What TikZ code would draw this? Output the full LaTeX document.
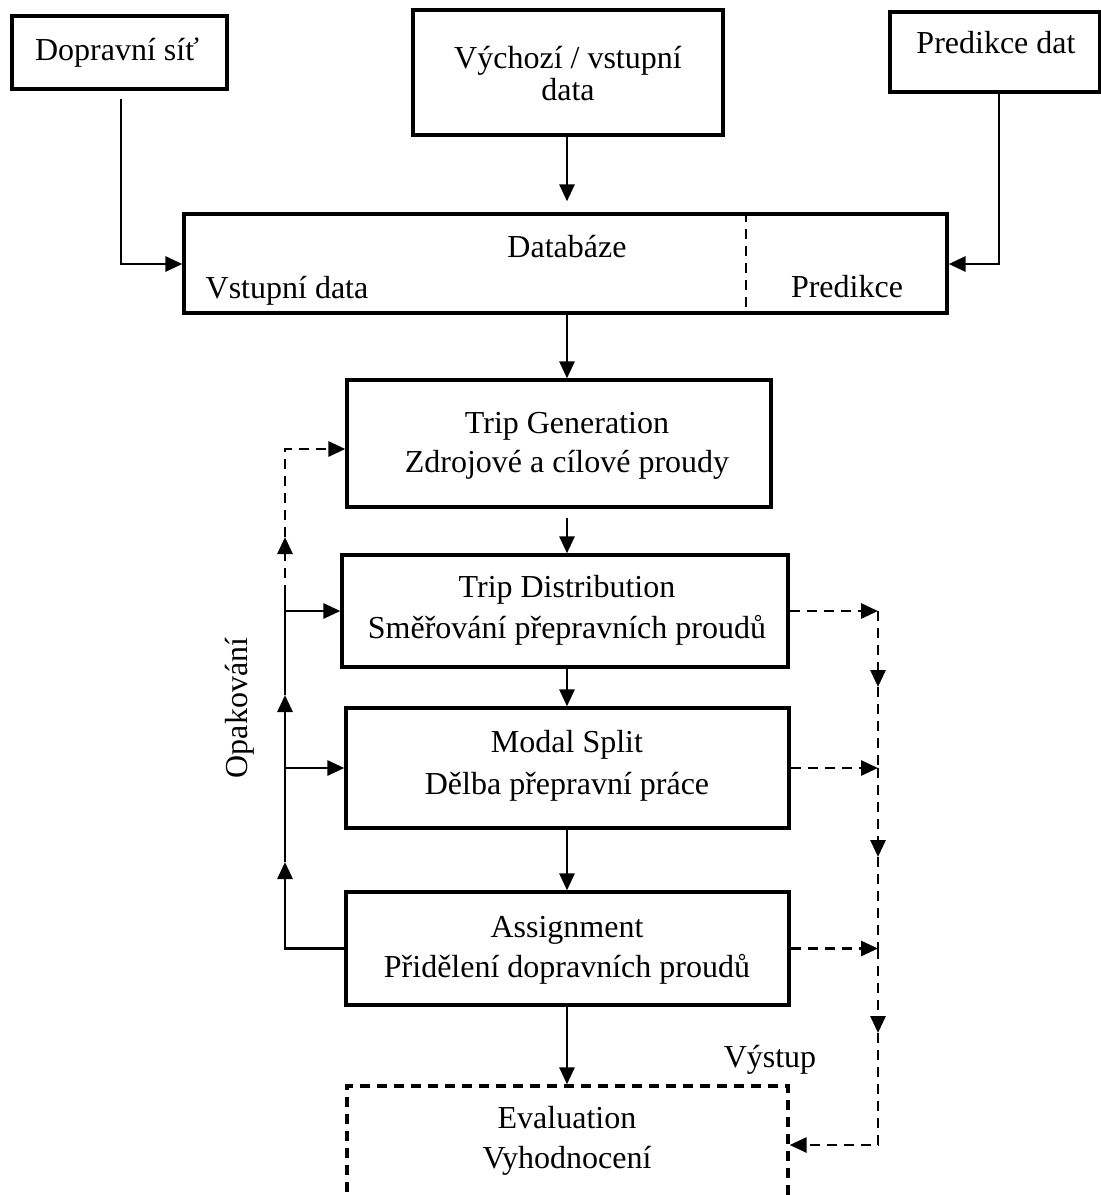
\documentclass[tikz,border=0pt]{standalone}
\usepackage{fontspec}
\setmainfont{Liberation Serif}
\usetikzlibrary{arrows.meta}
\begin{document}
\begin{tikzpicture}[x=1pt,y=-1pt,
  box/.style={draw,line width=3.3pt,inner sep=0pt},
  dbox/.style={box,dash pattern=on 10pt off 7pt},
  txt/.style={anchor=base,inner sep=0pt,font=\fontsize{32}{38}\selectfont},
  conn/.style={line width=2.9pt,-{Triangle[length=17pt,width=15pt]}},
  plain/.style={line width=2.9pt},
  dconn/.style={conn,dash pattern=on 10pt off 7pt},
  dplain/.style={plain,dash pattern=on 10pt off 7pt}]
\useasboundingbox (0,0) rectangle (1101,1195);
\clip (0,0) rectangle (1101,1195);
% boxes
\node[box,minimum width=215pt,minimum height=73pt] (dop) at (119.5,52.5) {};
\node[box,minimum width=310pt,minimum height=125pt] (vych) at (568,72.5) {};
\node[box,minimum width=210pt,minimum height=80pt] (pred) at (995,52) {};
\node[box,minimum width=763pt,minimum height=99pt] (db) at (565.5,263.5) {};
\node[box,minimum width=424pt,minimum height=127pt] (tg) at (559,443.5) {};
\node[box,minimum width=446pt,minimum height=112pt] (td) at (565,611) {};
\node[box,minimum width=443pt,minimum height=120pt] (ms) at (567.5,768) {};
\node[box,minimum width=443pt,minimum height=113pt] (as) at (567.5,948.5) {};
\node[dbox,minimum width=441pt,minimum height=144pt] (ev) at (567.5,1158) {};
\draw[dplain] ([xshift=180.5pt]db.north) -- ([xshift=180.5pt]db.south);
% texts
\node[txt] (tdop) at (117,60) {Dopravní síť};
\node[txt] (tvy1) at (568,68) {Výchozí / vstupní};
\node[txt] (tvy2) at (568,100) {data};
\node[txt] (tpred) at (996,53) {Predikce dat};
\node[txt] (tdb) at (567,257) {Databáze};
\node[txt] (tvst) at (287,298) {Vstupní data};
\node[txt] (tpr) at (847,297) {Predikce};
\node[txt] (ttg1) at (567,433) {Trip Generation};
\node[txt] (ttg2) at (567,472) {Zdrojové a cílové proudy};
\node[txt] (ttd1) at (567,597) {Trip Distribution};
\node[txt] (ttd2) at (567,638) {Směřování přepravních proudů};
\node[txt] (tms1) at (567,752) {Modal Split};
\node[txt] (tms2) at (567,794) {Dělba přepravní práce};
\node[txt] (tas1) at (567,937) {Assignment};
\node[txt] (tas2) at (567,977) {Přidělení dopravních proudů};
\node[txt] (tev1) at (567,1128) {Evaluation};
\node[txt] (tev2) at (567,1168) {Vyhodnocení};
\node[txt] (tvys) at (770,1067) {Výstup};
\node[txt,anchor=center,rotate=90] (topak) at (240,708) {Opakování};
% coordinates
\coordinate (mx) at (567,0);
\coordinate (c1) at (121,264);
\coordinate (c2) at (999,264);
\coordinate (lx) at (285,0);
\coordinate (l1) at (285,862);
\coordinate (l2) at (285,695);
\coordinate (l3) at (285,595);
\coordinate (l4) at (285,537);
\coordinate (l5) at (285,449);
\coordinate (rx) at (878,0);
\coordinate (r2) at (878,687);
\coordinate (r3) at (878,857);
\coordinate (r4) at (878,1033);
\coordinate (r5) at (878,1145);
% top connectors
\draw[conn,shorten <=8pt] (dop.south -| c1) -- (c1) -- (c1 -| db.west);
\draw[conn] (pred.south -| c2) -- (c2) -- (c2 -| db.east);
\draw[conn,shorten >=11pt] (vych.south -| mx) -- (db.north -| mx);
% main chain
\draw[conn] (db.south -| mx) -- (tg.north -| mx);
\draw[conn,shorten <=9pt] (tg.south -| mx) -- (td.north -| mx);
\draw[conn] (td.south -| mx) -- (ms.north -| mx);
\draw[conn] (ms.south -| mx) -- (as.north -| mx);
\draw[conn] (as.south -| mx) -- (ev.north -| mx);
% left loop
\draw[conn] (as.west) -- (as.west -| lx) -- (l1);
\draw[conn] (l1) -- (l2);
\draw[plain] (l2) -- (l3);
\draw[dconn] (l3) -- (l4);
\draw[dconn] (l4) -- (l5) -- (l5 -| tg.west);
\draw[conn] (td.west -| lx) -- (td.west);
\draw[conn] (ms.west -| lx) -- (ms.west);
% right output
\draw[dconn] (td.east) -- (td.east -| rx);
\draw[dconn] (td.east -| rx) -- (r2);
\draw[dplain] (r2) -- (ms.east -| rx);
\draw[dconn] (ms.east) -- (ms.east -| rx);
\draw[dconn] (ms.east -| rx) -- (r3);
\draw[dplain] (r3) -- (as.east -| rx);
\draw[dconn] (as.east) -- (as.east -| rx);
\draw[dconn] (as.east -| rx) -- (r4);
\draw[dconn] (r4) -- (r5) -- (r5 -| ev.east);
\end{tikzpicture}
\end{document}
